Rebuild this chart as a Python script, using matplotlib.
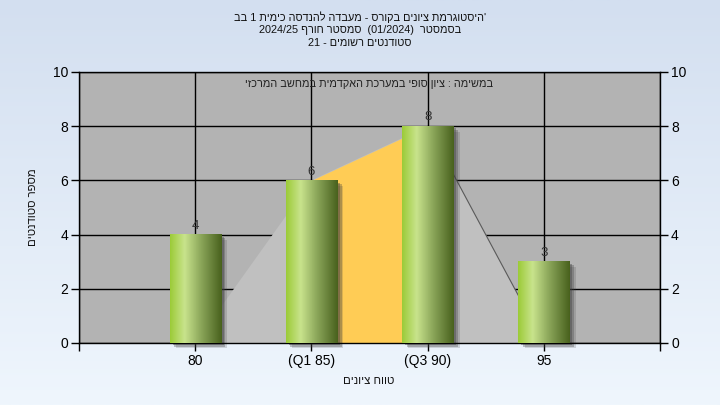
import re
import numpy as np
import matplotlib
matplotlib.use('Agg')
import matplotlib.pyplot as plt
from matplotlib.colors import LinearSegmentedColormap
from matplotlib.patches import Rectangle

# chart text (logical order)
title_lines = [
    "'היסטוגרמת ציונים בקורס - מעבדה להנדסה כימית 1 בב",
    "בסמסטר  (01/2024)  סמסטר חורף 2024/25",
    "סטודנטים רשומים - 21",
]
subtitle = "במשימה : ציון סופי במערכת האקדמית במחשב המרכזי"
x_label = "טווח ציונים"
y_label = "מספר סטודנטים"

# data
grade_labels = ["80", "(Q1 85)", "(Q3 90)", "95"]
student_counts = [4, 6, 8, 3]
curve_counts = [0, 6, 8, 0]   # shaded polygon behind the bars
y_ticks = [0, 2, 4, 6, 8, 10]


def visual(s):
    # matplotlib has no bidi support: lay out right-to-left by hand,
    # keeping number / latin runs in their own order
    parts = re.findall(r'[0-9A-Za-z/.]+|[^0-9A-Za-z/.]', s)
    mirror = {'(': ')', ')': '('}
    return ''.join(mirror.get(p, p) for p in reversed(parts))


plt.rcParams['font.family'] = ['Liberation Sans', 'DejaVu Sans']

W, H = 720, 405
fig = plt.figure(figsize=(7.2, 4.05), dpi=100)

# light blue background gradient
bg = fig.add_axes([0, 0, 1, 1], zorder=-10)
bg_cmap = LinearSegmentedColormap.from_list('bg', ['#d3dff0', '#eff6fd'])
bg.imshow(np.linspace(0, 1, 256).reshape(-1, 1), cmap=bg_cmap, aspect='auto',
          extent=[0, 1, 0, 1])
bg.axis('off')

ax = fig.add_axes([79 / W, 1 - 343 / H, (660 - 79) / W, (343 - 72) / H])
ax.set_facecolor('#b3b3b3')

x = np.arange(1, len(grade_labels) + 1)

# frequency polygon, quartile range in orange
ax.fill(x, curve_counts, color='#c0c0c0', zorder=1, lw=0)
ax.fill_between(x[1:3], curve_counts[1:3], color='#ffcc55', zorder=1.1, lw=0)
ax.plot(x[2:], curve_counts[2:], color='#5a5a5a', lw=0.8, zorder=1.2)

# gradient bars with a soft shadow
bar_w = 0.44
bar_cmap = LinearSegmentedColormap.from_list(
    'bar', [(0, '#9ccb38'), (0.28, '#c8e38c'), (0.6, '#8ba65a'), (1, '#48611d')])
grad = np.linspace(0, 1, 128).reshape(1, -1)
for xi, v in zip(x, student_counts):
    for dx, dy, al in [(0.055, 0.2, 0.18), (0.04, 0.14, 0.3), (0.025, 0.08, 0.4)]:
        ax.add_patch(Rectangle((xi - bar_w / 2 + dx, -dy), bar_w, v, color='#404040',
                               alpha=al, lw=0, zorder=2, clip_on=False))
    ax.imshow(grad, cmap=bar_cmap, aspect='auto', zorder=3,
              extent=[xi - bar_w / 2, xi + bar_w / 2, 0, v])
    ax.annotate(str(v), (xi, v), xytext=(0, 2), textcoords='offset points',
                ha='center', va='bottom', fontsize=9.5, color='#333333', zorder=4)

ax.set_xlim(0, len(grade_labels) + 1)
ax.set_ylim(0, 10)
ax.set_xticks(np.arange(0, len(grade_labels) + 2))
ax.set_xticklabels([''] + grade_labels + [''])
ax.set_yticks(y_ticks)
ax.grid(True, color='black', lw=1)
ax.set_axisbelow(True)
ax.tick_params(axis='both', direction='out', length=6, width=1, labelsize=10,
               colors='black')
ax.tick_params(axis='y', right=True, labelright=True, pad=2)
ax.tick_params(axis='x', pad=2)
for sp in ax.spines.values():
    sp.set_color('black')
    sp.set_linewidth(1)

ax.text(0.5, 0.955, visual(subtitle), transform=ax.transAxes, ha='center',
        va='center', fontsize=7.8, color='#222222')

for i, line in enumerate(title_lines):
    fig.text(0.5, 1 - (17 + 13 * i) / H, visual(line), ha='center', va='center',
             fontsize=7.8, color='#111111')

fig.text(369 / W, 1 - 381 / H, visual(x_label), ha='center', va='center',
         fontsize=8.2, color='#111111')
fig.text(33 / W, 1 - 207 / H, visual(y_label), ha='center', va='center',
         rotation=90, fontsize=8.2, color='#111111')

fig.savefig('out.png', dpi=100)
